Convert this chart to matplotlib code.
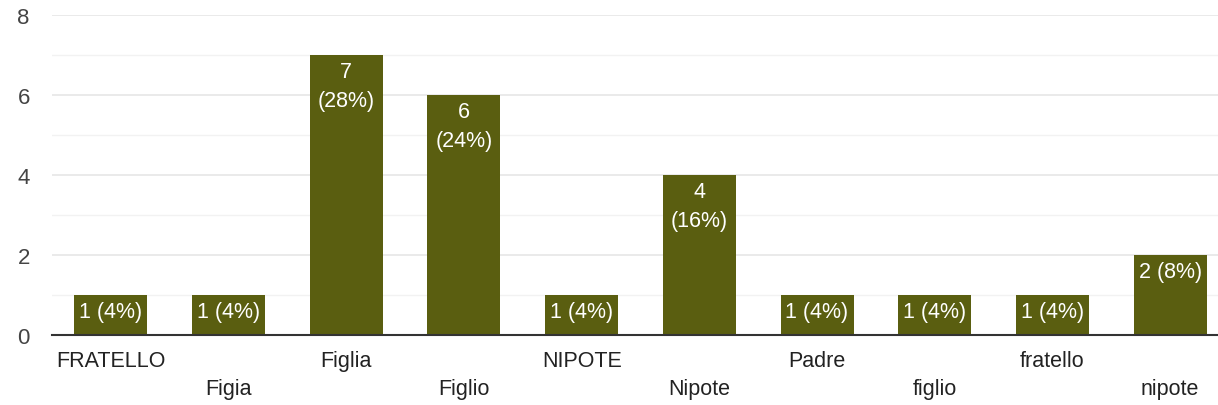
import matplotlib.pyplot as plt

categories = ['FRATELLO', 'Figia', 'Figlia', 'Figlio', 'NIPOTE', 'Nipote',
              'Padre', 'figlio', 'fratello', 'nipote']
counts = [1, 1, 7, 6, 1, 4, 1, 1, 1, 2]
labels = ['1 (4%)', '1 (4%)', '7\n(28%)', '6\n(24%)', '1 (4%)', '4\n(16%)',
          '1 (4%)', '1 (4%)', '1 (4%)', '2 (8%)']

plt.rcParams['font.family'] = ['Liberation Sans', 'DejaVu Sans']

W, H = 1218, 406
fig = plt.figure(figsize=(W / 100, H / 100), dpi=100)
ax = fig.add_axes([52 / W, 70 / H, 1 - 52 / W, 320 / H])

x = list(range(len(categories)))
bars = ax.bar(x, counts, width=0.62, color='#5a5e10', zorder=3)

for b, lab in zip(bars, labels):
    ax.text(b.get_x() + b.get_width() / 2, b.get_height() - 0.16, lab,
            ha='center', va='top', color='white', fontsize=15.5,
            linespacing=1.45, zorder=4)

ax.set_xlim(-0.5, 9.5 - 11 / 117.6)
ax.set_ylim(0, 8)
ax.set_yticks([0, 2, 4, 6, 8])
ax.set_yticks([1, 3, 5, 7], minor=True)
ax.grid(axis='y', which='major', color='#e6e6e6', linewidth=1.2, zorder=0)
ax.grid(axis='y', which='minor', color='#f2f2f2', linewidth=1.0, zorder=0)
ax.tick_params(axis='y', which='both', length=0, labelsize=16,
               labelcolor='#444444', pad=16)
ax.set_xticks([])

for i, c in enumerate(categories):
    ypos = -0.63 if i % 2 == 0 else -1.35
    ax.text(i, ypos, c, ha='center', va='center', fontsize=15.5,
            color='#222222', clip_on=False)

for s in ['top', 'right', 'left']:
    ax.spines[s].set_visible(False)
ax.spines['bottom'].set_color('#333333')
ax.spines['bottom'].set_linewidth(1.5)
ax.spines['bottom'].set_zorder(5)

fig.savefig('out.png', dpi=100)
